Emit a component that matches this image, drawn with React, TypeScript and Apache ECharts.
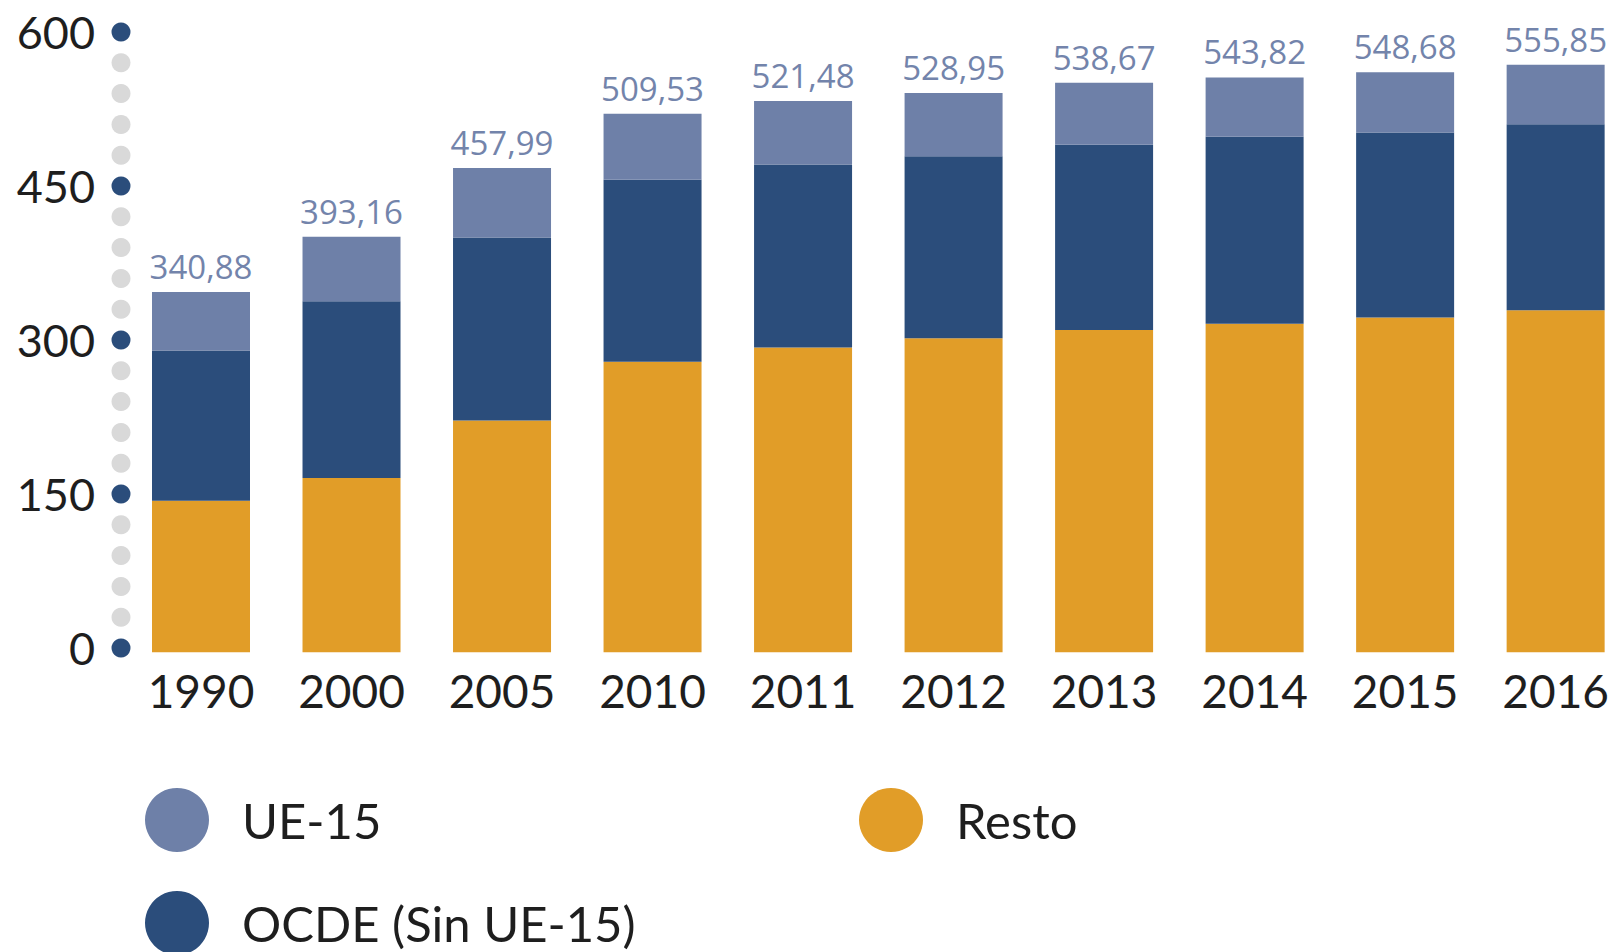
import React, { useEffect, useRef } from "react";
import * as echarts from "echarts";

const years = ["1990", "2000", "2005", "2010", "2011", "2012", "2013", "2014", "2015", "2016"];
const resto = [143.4, 164.8, 219.3, 274.7, 288.3, 297.1, 304.9, 310.7, 316.6, 323.4];
const ocde = [142.0, 167.3, 173.1, 172.2, 173.2, 172.2, 175.1, 177.0, 175.0, 176.0];
const totals = [340.88, 393.16, 457.99, 509.53, 521.48, 528.95, 538.67, 543.82, 548.68, 555.85];
const ue15 = totals.map((t, i) => +(t - resto[i] - ocde[i]).toFixed(2));
const tickDots = [0, 30, 60, 90, 120, 150, 180, 210, 240, 270, 300, 330, 360, 390, 420, 450, 480, 510, 540, 570, 600];
const majorTicks = [0, 150, 300, 450, 600];

const C_UE = "#6E80A8";
const C_OCDE = "#2B4D7B";
const C_RESTO = "#E19D28";
const C_LABEL = "#7384AB";
const C_TEXT = "#1e1e1e";
const C_GREY = "#D9D9D9";

export default function App() {
  const ref = useRef<HTMLDivElement>(null);
  useEffect(() => {
    if (!ref.current) return;
    const chart = echarts.init(ref.current, undefined, { renderer: "svg" });
    const legendText = { fontFamily: "Lato", fontSize: 49, color: C_TEXT, padding: [0, 0, 0, 28] };
    const barCommon = { type: "bar", stack: "t", barWidth: 98, clip: false, xAxisIndex: 0, yAxisIndex: 0 };
    chart.setOption({
      animation: false,
      legend: [
        { data: ["UE-15"], left: 145, top: 788, padding: 0, itemWidth: 64, itemHeight: 64, icon: "circle", textStyle: legendText, selectedMode: false },
        { data: ["Resto"], left: 859, top: 788, padding: 0, itemWidth: 64, itemHeight: 64, icon: "circle", textStyle: legendText, selectedMode: false },
        { data: ["OCDE (Sin UE-15)"], left: 145, top: 891, padding: 0, itemWidth: 64, itemHeight: 64, icon: "circle", textStyle: legendText, selectedMode: false },
      ],
      grid: [
        { left: 201, width: 1359, top: 18, height: 634.2, containLabel: false },
        { left: 111, width: 20, top: 32, height: 616, containLabel: false },
      ],
      xAxis: [
        {
          type: "category",
          data: years,
          gridIndex: 0,
          boundaryGap: false,
          axisLine: { show: false },
          axisTick: { show: false },
          splitLine: { show: false },
          axisLabel: { fontFamily: "Lato", fontSize: 46, color: C_TEXT, margin: 15, showMinLabel: true, showMaxLabel: true, interval: 0 },
        },
        { type: "value", gridIndex: 1, min: -1, max: 1, show: false },
      ],
      yAxis: [
        { type: "value", gridIndex: 0, min: 0, max: 600, show: false },
        {
          type: "value",
          gridIndex: 1,
          min: 0,
          max: 600,
          interval: 150,
          axisLine: { show: false },
          axisTick: { show: false },
          splitLine: { show: false },
          axisLabel: { fontFamily: "Lato", fontSize: 45, color: C_TEXT, margin: 16 },
        },
      ],
      series: [
        { ...barCommon, name: "Resto", data: resto, itemStyle: { color: C_RESTO } },
        { ...barCommon, name: "OCDE (Sin UE-15)", data: ocde, itemStyle: { color: C_OCDE } },
        {
          ...barCommon,
          name: "UE-15",
          data: ue15,
          itemStyle: { color: C_UE },
          label: {
            show: true,
            position: "top",
            distance: 9,
            fontFamily: "Open Sans",
            fontSize: 33,
            color: C_LABEL,
            formatter: (p: any) => totals[p.dataIndex].toFixed(2).replace(".", ","),
          },
        },
        {
          name: "ticks",
          type: "scatter",
          xAxisIndex: 1,
          yAxisIndex: 1,
          symbol: "circle",
          symbolSize: 19,
          silent: true,
          data: tickDots.map((v) => ({
            value: [0, v],
            itemStyle: { color: majorTicks.includes(v) ? C_OCDE : C_GREY, opacity: 1 },
          })),
          z: 3,
        },
      ],
    });
    return () => chart.dispose();
  }, []);
  return <div ref={ref} style={{ width: 1612, height: 952, position: "absolute", left: 0, top: 0 }} />;
}
